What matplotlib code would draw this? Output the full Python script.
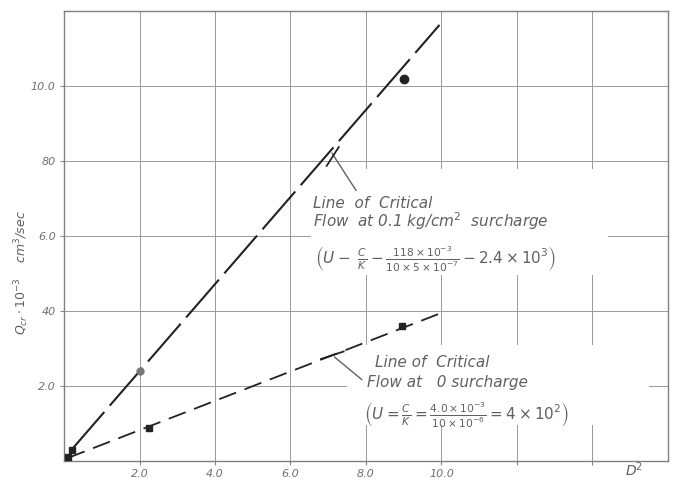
import matplotlib
matplotlib.use("Agg")
import matplotlib.pyplot as plt
from matplotlib.patches import Rectangle
import numpy as np

plt.rcParams['font.family'] = ['DejaVu Sans']
plt.rcParams['mathtext.default'] = 'it'

# measured points, 0.1 kg/cm^2 surcharge
upper_x = [0.2, 2.0, 9.0]
upper_y = [0.3, 2.4, 10.2]
# fitted line of critical flow, 0.1 kg/cm^2 surcharge
upper_fit_x = [0.2, 9.95]
upper_fit_y = [0.3, 11.63]

# measured points, 0 surcharge
lower_x = [0.1, 2.25, 8.95]
lower_y = [0.1, 0.88, 3.6]
lower_fit_x = [0.1, 10.0]
lower_fit_y = [0.08, 3.95]

x_ticks = [2, 4, 6, 8, 10, 12, 14]
x_labels = ["2.0", "4.0", "6.0", "8.0", "10.0", "", ""]
y_ticks = [2, 4, 6, 8, 10]
y_labels = ["2.0", "40", "6.0", "80", "10.0"]

ink = "#222222"
pencil = "#606060"

fig = plt.figure(figsize=(6.76, 4.87), dpi=100)
ax = fig.add_axes([0.0947, 0.0534, 0.8933, 0.9240])
ax.set_xlim(0, 16)
ax.set_ylim(0, 12)

ax.set_xticks(x_ticks)
ax.set_xticklabels(x_labels)
ax.set_yticks(y_ticks)
ax.set_yticklabels(y_labels)
ax.tick_params(length=3, width=0.8, color="#888888", labelsize=8,
               labelcolor="#707070", pad=3)
for lab in ax.get_xticklabels() + ax.get_yticklabels():
    lab.set_fontstyle("italic")

ax.set_axisbelow(True)
ax.grid(True, color="#9a9a9a", lw=0.7)
for side in ax.spines.values():
    side.set_color("#808080")
    side.set_linewidth(1.0)

# blank patches where the lettering was written over the grid
ax.add_patch(Rectangle((6.55, 4.95), 7.85, 2.85, fc="white", ec="none", zorder=1.5))
ax.add_patch(Rectangle((7.5, 0.96), 8.0, 2.12, fc="white", ec="none", zorder=1.5))

l1, = ax.plot(upper_fit_x, upper_fit_y, color=ink, lw=1.5, zorder=3)
l1.set_dashes([24, 4])
l2, = ax.plot(lower_fit_x, lower_fit_y, color=ink, lw=1.3, zorder=3)
l2.set_dashes([10, 5])

ax.plot(upper_x[:1], upper_y[:1], "s", color=ink, ms=5, zorder=4)
ax.plot(upper_x[1:2], upper_y[1:2], "o", color="#777777", ms=5, zorder=4)
ax.plot(upper_x[2:], upper_y[2:], "o", color=ink, ms=6, zorder=4)
ax.plot(lower_x, lower_y, "s", color=ink, ms=4, zorder=4)

# leaders from the lines to the lettering
s1 = (upper_fit_y[1] - upper_fit_y[0]) / (upper_fit_x[1] - upper_fit_x[0])
p1 = (7.06, upper_fit_y[0] + s1 * (7.06 - upper_fit_x[0]))
ax.annotate("", xy=p1, xytext=(7.78, 7.15),
            arrowprops=dict(arrowstyle="-", color=pencil, lw=1.0), zorder=4)
ax.plot([p1[0] - 0.1, p1[0] + 0.22], [p1[1] - 0.4, p1[1] + 0.1], color=ink, lw=1.3, zorder=4)

s2 = (lower_fit_y[1] - lower_fit_y[0]) / (lower_fit_x[1] - lower_fit_x[0])
p2 = (7.11, lower_fit_y[0] + s2 * (7.11 - lower_fit_x[0]))
ax.annotate("", xy=p2, xytext=(7.95, 2.12),
            arrowprops=dict(arrowstyle="-", color=pencil, lw=1.0), zorder=4)
ax.plot([p2[0] - 0.3, p2[0] + 0.3], [p2[1] - 0.1, p2[1] + 0.1], color=ink, lw=1.3, zorder=4)

txt = dict(color=pencil, fontsize=11, fontstyle="italic", zorder=5, va="center")
ax.text(6.6, 6.88, "Line  of  Critical", **txt)
ax.text(6.6, 6.40, "Flow  at 0.1 kg/cm$^2$  surcharge", **txt)
ax.text(6.65, 5.39,
        r"$\left(U -\ \frac{C}{K} - \frac{118\times10^{-3}}{10\times5\times10^{-7}} - 2.4\times10^{3}\right)$",
        **dict(txt, fontsize=11))

ax.text(8.24, 2.63, "Line of  Critical", **txt)
ax.text(8.03, 2.10, "Flow at   0 surcharge", **txt)
ax.text(7.95, 1.22,
        r"$\left(U = \frac{C}{K} = \frac{4.0\times10^{-3}}{10\times10^{-6}} = 4\times10^{2}\right)$",
        **dict(txt, fontsize=11))

fig.text(0.925, 0.022, "D$^2$", color=pencil, fontsize=10, fontstyle="italic")
fig.text(0.032, 0.44, r"$Q_{cr}\cdot10^{-3}$    cm$^3$/sec", color=pencil,
         fontsize=9, fontstyle="italic", rotation=90, ha="center", va="center")

fig.savefig("out.png", dpi=100)
